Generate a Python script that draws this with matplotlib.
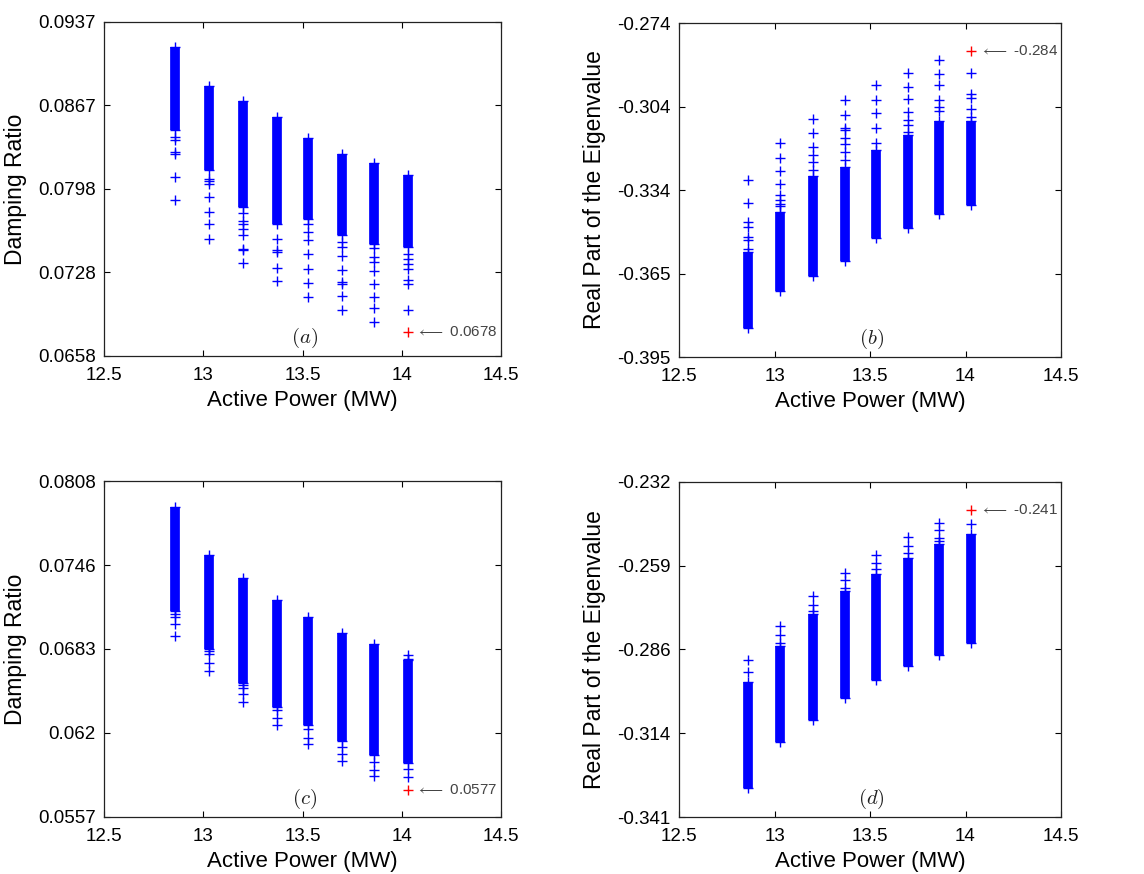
import matplotlib
matplotlib.use("Agg")
import matplotlib.pyplot as plt

plt.rcParams['font.family'] = ['Liberation Sans', 'DejaVu Sans']

x_power = [12.86, 13.03, 13.20, 13.37, 13.53, 13.70, 13.86, 14.03]
x_ticks = [12.5, 13.0, 13.5, 14.0, 14.5]
x_ticklabels = ["12.5", "13", "13.5", "14", "14.5"]

# ---- panel (a) ----
a_band_hi = [0.09158, 0.08835, 0.08707, 0.08577, 0.08401, 0.08265, 0.08192, 0.08092]
a_band_lo = [0.08465, 0.08131, 0.07825, 0.07686, 0.07727, 0.07588, 0.07519, 0.07491]
a_outliers = [
    [0.08410, 0.08387, 0.08284, 0.08265, 0.08075, 0.07881],
    [0.08062, 0.08039, 0.08014, 0.07908, 0.07783, 0.07680, 0.07560],
    [0.07775, 0.07708, 0.07686, 0.07644, 0.07588, 0.07477, 0.07463, 0.07357],
    [0.07560, 0.07463, 0.07449, 0.07318, 0.07207],
    [0.07680, 0.07616, 0.07547, 0.07435, 0.07310, 0.07190, 0.07073],
    [0.07533, 0.07491, 0.07413, 0.07296, 0.07198, 0.07179, 0.07079, 0.06967],
    [0.07485, 0.07407, 0.07366, 0.07290, 0.07185, 0.07073, 0.06984, 0.06864],
    [0.07435, 0.07393, 0.07352, 0.07310, 0.07212, 0.07179, 0.06967],
]
a_red = 0.0678
a_yticks = [0.0658, 0.072775, 0.07975, 0.086725, 0.0937]
a_yticklabels = ["0.0658", "0.0728", "0.0798", "0.0867", "0.0937"]

# ---- panel (b) ----
b_band_hi = [-0.3570, -0.3425, -0.3294, -0.3262, -0.3201, -0.3147, -0.3095, -0.3095]
b_band_lo = [-0.3845, -0.3711, -0.3658, -0.3602, -0.3518, -0.3481, -0.3433, -0.3398]
b_outliers = [
    [-0.3310, -0.3392, -0.3461, -0.3479, -0.3515, -0.3527, -0.3558],
    [-0.3175, -0.3228, -0.3276, -0.3324, -0.3364, -0.3380, -0.3394, -0.3403],
    [-0.3089, -0.3139, -0.3189, -0.3219, -0.3244, -0.3271],
    [-0.3020, -0.3074, -0.3119, -0.3129, -0.3155, -0.3180, -0.3207, -0.3235],
    [-0.2966, -0.3020, -0.3066, -0.3119, -0.3175],
    [-0.2920, -0.2972, -0.3014, -0.3062, -0.3093, -0.3111, -0.3135],
    [-0.2875, -0.2926, -0.2963, -0.3018, -0.3044, -0.3059],
    [-0.2920, -0.2998, -0.3011, -0.3050, -0.3081],
]
b_red = -0.284
b_yticks = [-0.395, -0.36475, -0.3345, -0.30425, -0.274]
b_yticklabels = ["-0.395", "-0.365", "-0.334", "-0.304", "-0.274"]

# ---- panel (c) ----
c_band_hi = [0.07886, 0.07530, 0.07358, 0.07189, 0.07064, 0.06947, 0.06865, 0.06740]
c_band_lo = [0.07109, 0.06828, 0.06571, 0.06392, 0.06255, 0.06138, 0.06031, 0.05973]
c_outliers = [
    [0.07089, 0.07064, 0.07014, 0.06920],
    [0.06810, 0.06790, 0.06720, 0.06658],
    [0.06554, 0.06536, 0.06486, 0.06429],
    [0.06367, 0.06312, 0.06255],
    [0.06230, 0.06163, 0.06113],
    [0.06093, 0.06043, 0.05988],
    [0.05981, 0.05924, 0.05874],
    [0.06778, 0.06753, 0.05931, 0.05869],
]
c_red = 0.0577
c_yticks = [0.0557, 0.061975, 0.06825, 0.074525, 0.0808]
c_yticklabels = ["0.0557", "0.062", "0.0683", "0.0746", "0.0808"]

# ---- panel (d) ----
d_band_hi = [-0.2971, -0.2852, -0.2750, -0.2675, -0.2618, -0.2568, -0.2522, -0.2489]
d_band_lo = [-0.3315, -0.3165, -0.3093, -0.3023, -0.2965, -0.2919, -0.2883, -0.2845]
d_outliers = [
    [-0.2899, -0.2938],
    [-0.2787, -0.2817, -0.2843],
    [-0.2692, -0.2719, -0.2741],
    [-0.2617, -0.2640, -0.2664],
    [-0.2558, -0.2582, -0.2604],
    [-0.2500, -0.2528, -0.2550],
    [-0.2454, -0.2476, -0.2503, -0.2511],
    [-0.2457],
]
d_red = -0.241
d_yticks = [-0.341, -0.31375, -0.2865, -0.25925, -0.232]
d_yticklabels = ["-0.341", "-0.314", "-0.286", "-0.259", "-0.232"]

panel_tags = ["(a)", "(b)", "(c)", "(d)"]
red_labels = ["0.0678", "-0.284", "0.0577", "-0.241"]
y_labels = ["Damping Ratio", "Real Part of the Eigenvalue",
            "Damping Ratio", "Real Part of the Eigenvalue"]
x_label = "Active Power (MW)"

W, H = 1144, 874
fig = plt.figure(figsize=(W / 100, H / 100), dpi=100)

# axes rectangles in pixels: left, top, right, bottom
rects = [(104, 22, 501, 356), (679, 23, 1061, 357),
         (104, 481, 501, 817), (679, 482, 1061, 817)]

panels = [
    (a_band_lo, a_band_hi, a_outliers, a_red, a_yticks, a_yticklabels),
    (b_band_lo, b_band_hi, b_outliers, b_red, b_yticks, b_yticklabels),
    (c_band_lo, c_band_hi, c_outliers, c_red, c_yticks, c_yticklabels),
    (d_band_lo, d_band_hi, d_outliers, d_red, d_yticks, d_yticklabels),
]

BLUE = (0, 0, 1)
MS = 7.5
BAND_LW = 7.0

for i, (lo, hi, outs, red, yt, ytl) in enumerate(panels):
    l, t, r, b = rects[i]
    ax = fig.add_axes([l / W, 1 - b / H, (r - l) / W, (b - t) / H])
    # dense bands
    ax.vlines(x_power, lo, hi, colors=[BLUE], linewidth=BAND_LW, capstyle='butt')
    # band ends as markers
    ax.plot(x_power, lo, linestyle='none', marker='+', ms=MS, mew=1.0, color=BLUE)
    ax.plot(x_power, hi, linestyle='none', marker='+', ms=MS, mew=1.0, color=BLUE)
    # individual points
    for xv, ys in zip(x_power, outs):
        ax.plot([xv] * len(ys), ys, linestyle='none', marker='+', ms=MS, mew=1.0, color=BLUE)
    # red extreme point
    ax.plot([x_power[-1]], [red], linestyle='none', marker='+', ms=MS, mew=1.0, color='red')
    ax.annotate(r'$\longleftarrow$ ' + red_labels[i], xy=(x_power[-1], red),
                xytext=(6, 0), textcoords='offset points', va='center', ha='left',
                fontsize=11, color='#444444', math_fontfamily='cm')
    ax.text(0.505, 0.055, '$' + panel_tags[i] + '$', transform=ax.transAxes,
            ha='center', va='center', fontsize=15, math_fontfamily='cm', color='#222222')

    ax.set_xlim(12.5, 14.5)
    ax.set_ylim(yt[0], yt[-1])
    ax.set_xticks(x_ticks)
    ax.set_xticklabels(x_ticklabels)
    ax.set_yticks(yt)
    ax.set_yticklabels(ytl)
    ax.tick_params(direction='in', length=4, width=0.8, top=True, right=True,
                   labelsize=13.5, pad=6, colors='black')
    ax.tick_params(axis='x', pad=8)
    for s in ax.spines.values():
        s.set_linewidth(0.9)
        s.set_color('#222222')
    ax.set_xlabel(x_label, fontsize=16, labelpad=4)
    ax.set_ylabel(y_labels[i], fontsize=16.5, labelpad=8)

fig.savefig("out.png", dpi=100)
